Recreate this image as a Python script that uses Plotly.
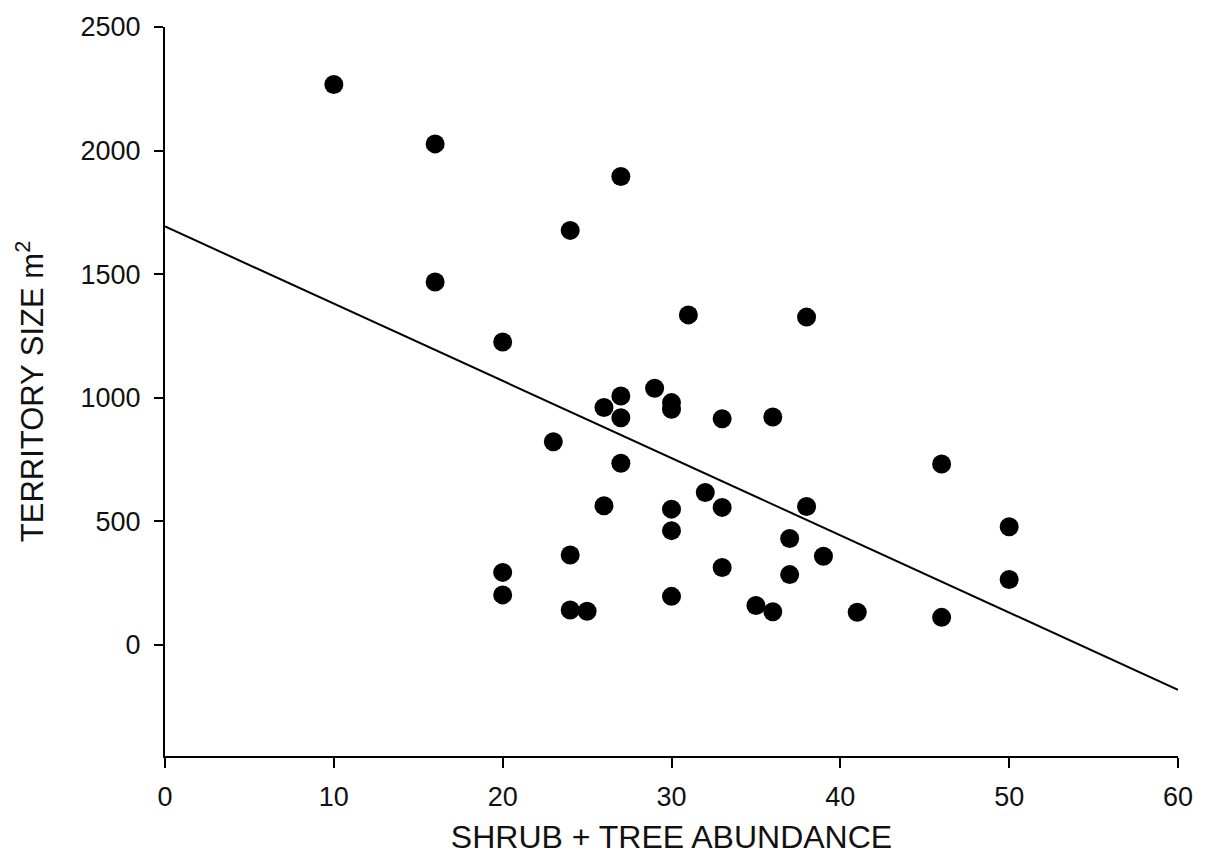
import plotly.graph_objects as go

# Observed data: shrub + tree abundance vs territory size
abundance = [10, 16, 16, 27, 24, 20, 31, 38, 29, 27, 30, 30, 26, 27, 33, 36, 23, 27, 46,
             32, 26, 30, 33, 38, 50, 30, 37, 24, 39, 20, 33, 37, 50, 20, 30, 24, 25, 35,
             36, 41, 46]
territory = [2267, 2027, 1468, 1895, 1677, 1225, 1335, 1326, 1038, 1007, 980, 953, 960, 919,
             915, 922, 822, 735, 732, 616, 563, 549, 556, 560, 478, 462, 430, 363, 358, 293,
             313, 284, 264, 202, 196, 141, 136, 159, 134, 132, 111]

# Regression line endpoints
fit_x = [0, 60]
fit_y = [1693, -182]

x_ticks = [0, 10, 20, 30, 40, 50, 60]
y_ticks = [0, 500, 1000, 1500, 2000, 2500]

font_family = "Liberation Sans, Arial, sans-serif"

fig = go.Figure()
fig.add_trace(go.Scatter(x=fit_x, y=fit_y, mode="lines",
                         line=dict(color="black", width=2), hoverinfo="skip",
                         showlegend=False))
fig.add_trace(go.Scatter(x=abundance, y=territory, mode="markers",
                         marker=dict(color="black", size=19, line=dict(width=0)),
                         showlegend=False))

fig.update_layout(
    width=1207, height=865,
    margin=dict(l=165, r=29, t=25, b=109),
    paper_bgcolor="white", plot_bgcolor="white",
    font=dict(family=font_family, color="#111111", size=27),
    xaxis=dict(range=[0, 60], tickvals=x_ticks, ticks="outside", ticklen=10,
               tickwidth=2, tickcolor="black", showline=True, linecolor="black",
               linewidth=2, showgrid=False, zeroline=False,
               tickfont=dict(size=27), ticklabelstandoff=6,
               title=dict(text="SHRUB + TREE ABUNDANCE", font=dict(size=32), standoff=14)),
    yaxis=dict(range=[-450, 2500], tickvals=y_ticks, ticks="outside", ticklen=9,
               tickwidth=2, tickcolor="black", showline=True, linecolor="black",
               linewidth=2, showgrid=False, zeroline=False,
               tickfont=dict(size=27), ticklabelstandoff=8,
               title=dict(text="TERRITORY SIZE m<sup>2</sup>", font=dict(size=31), standoff=28)),
)

fig.write_html("out.html")
